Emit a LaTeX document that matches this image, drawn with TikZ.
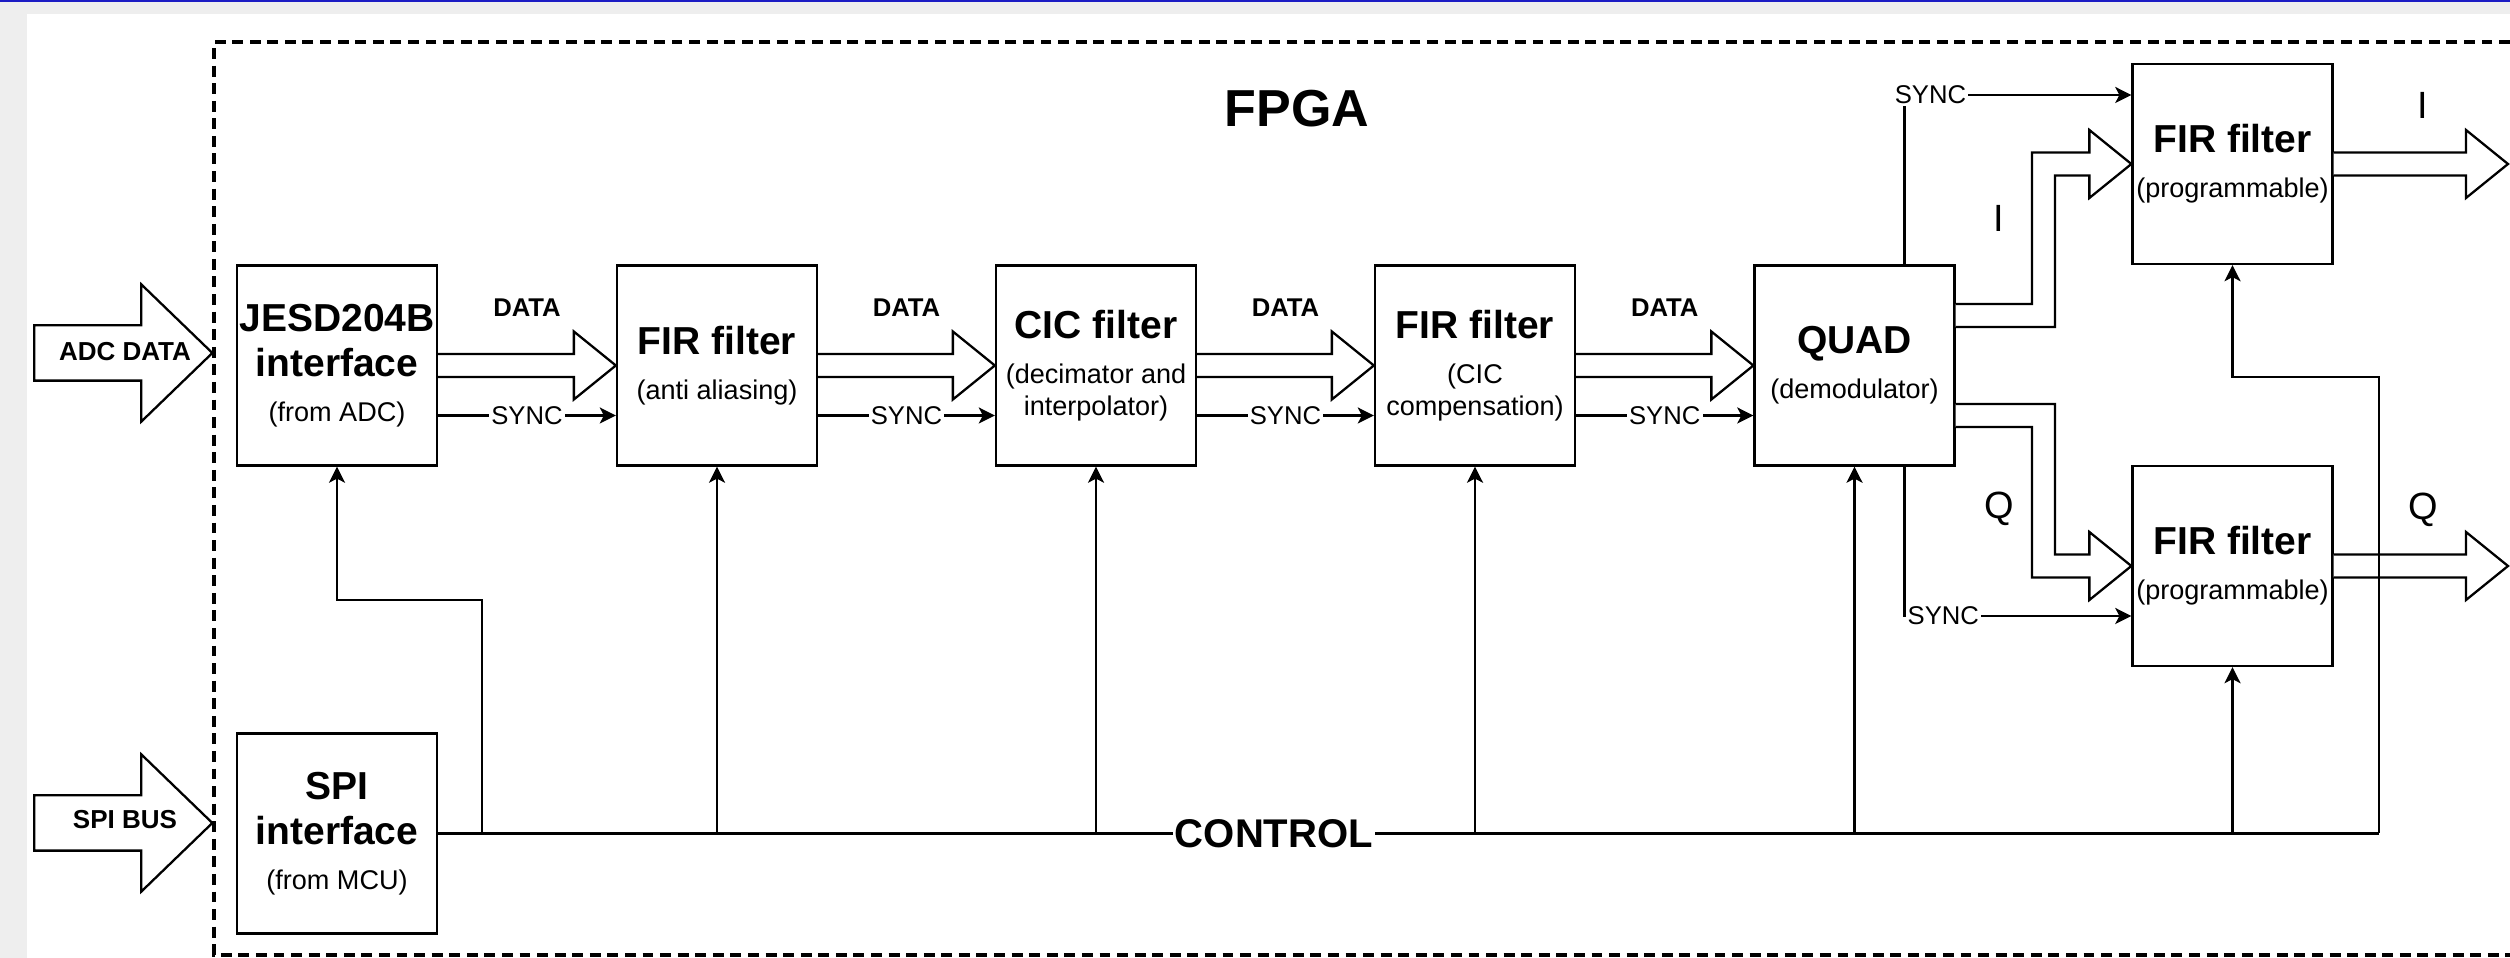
\documentclass[tikz,border=0pt]{standalone}
\usepackage{fontspec}
\setmainfont{Liberation Sans}
\usepackage{tikz}
\usetikzlibrary{shapes}
\usetikzlibrary{arrows.meta}
\usetikzlibrary{calc}

\definecolor{pagegray}{HTML}{EEEEEE}
\definecolor{barblue}{HTML}{1C1CC4}

\newcommand{\boxhead}{\fontsize{11.1}{12.8}\selectfont\bfseries}
\newcommand{\boxsub}{\fontsize{7.7}{9.1}\selectfont}

% wide hollow arrow from #1 to the tip #2 (same height)
\newcommand{\busto}[2]{%
  \draw[bus] let \p1=(#1), \p2=(#2) in
    (\x1,\y1+1.15mm) -- (\x2-4.2mm,\y1+1.15mm) -- (\x2-4.2mm,\y1+3.4mm) -- (\x2,\y1)
    -- (\x2-4.2mm,\y1-3.4mm) -- (\x2-4.2mm,\y1-1.15mm) -- (\x1,\y1-1.15mm);}
% same, with a step half way: #3 = 1 going up, -1 going down
\newcommand{\bentbus}[3]{%
  \draw[bus] let \p1=(#1), \p2=(#2), \p3=($(#1)!.5!(#2)$), \n1={#3*1.15} in
    (\x1,\y1+1.15mm) -- ({\x3-\n1 mm},\y1+1.15mm) -- ({\x3-\n1 mm},\y2+1.15mm)
    -- (\x2-4.2mm,\y2+1.15mm) -- (\x2-4.2mm,\y2+3.4mm) -- (\x2,\y2)
    -- (\x2-4.2mm,\y2-3.4mm) -- (\x2-4.2mm,\y2-1.15mm) -- ({\x3+\n1 mm},\y2-1.15mm)
    -- ({\x3+\n1 mm},\y1-1.15mm) -- (\x1,\y1-1.15mm);}

\begin{document}
\begin{tikzpicture}

  \tikzset{block/.style = {shape=rectangle,draw,line width=0.65pt,minimum width=2cm,minimum height=2cm,align=center,inner sep=0pt,font=\boxsub}}
  \tikzset{bus/.style = {draw,fill=white,line width=0.65pt}}
  \tikzset{sig/.style = {-{Stealth[length=4.6pt,width=4.6pt,inset=1.2pt]},line width=0.6pt}}
  \tikzset{ctrlbus/.style = {line width=0.9pt}}
  \tikzset{inarrow/.style = {shape=single arrow,draw,fill=white,line width=0.65pt,minimum height=1.78cm,
      single arrow head extend=4.1mm,single arrow tip angle=88,inner xsep=0pt,inner ysep=2.65mm,
      text height=0pt,text depth=0pt}}
  \tikzset{portlbl/.style = {font=\fontsize{7.4}{9}\selectfont\bfseries}}
  \tikzset{datalbl/.style = {font=\fontsize{7.3}{9}\selectfont\bfseries}}
  \tikzset{synclbl/.style = {fill=white,inner sep=0.6pt,font=\fontsize{7.3}{9}\selectfont}}
  \tikzset{iqlbl/.style = {font=\fontsize{10.8}{13}\selectfont}}

  \useasboundingbox (0,0) rectangle (25.1,9.58);
  \fill[pagegray] (0,0) rectangle (25.1,9.58);
  \fill[white] (0.27,0) rectangle (25.1,9.44);
  \fill[barblue] (0,9.56) rectangle (25.1,9.58);

  % fpga border
  \draw[line width=1.1pt,dash pattern=on 3.1pt off 1.9pt] (25.1,9.16) -- (2.14,9.16) -- (2.14,0.03) -- (25.1,0.03);
  \node[font=\fontsize{14.8}{17}\selectfont\bfseries] (fpga) at (12.97,8.49) {FPGA};

  % blocks
  \node[block] (jesd) at (3.37,5.925)  {{\boxhead JESD204B}\\[3.7pt]{\boxhead interface}\\[3.7pt](from ADC)};
  \node[block] (spi)  at (3.37,1.245)  {{\boxhead SPI}\\[3.7pt]{\boxhead interface}\\[3.7pt](from MCU)};
  \node[block] (fira) at (7.17,5.925)  {{\boxhead FIR filter}\\[3.7pt](anti aliasing)};
  \node[block] (cic)  at (10.96,5.925) {{\boxhead CIC filter}\\[3.7pt](decimator and\\interpolator)};
  \node[block] (firb) at (14.75,5.925) {{\boxhead FIR filter}\\[3.7pt](CIC\\compensation)};
  \node[block] (quad) at (18.545,5.925) {{\boxhead QUAD}\\[3.7pt](demodulator)};
  \node[block] (firi) at (22.325,7.94) {{\boxhead FIR filter}\\[3.7pt](programmable)};
  \node[block] (firq) at (22.325,3.92) {{\boxhead FIR filter}\\[3.7pt](programmable)};

  % inputs
  \node[inarrow,anchor=tip] (adc) at (2.14,6.05) {};
  \node[portlbl] (adclbl) at (1.25,6.06) {ADC DATA};
  \node[inarrow,anchor=tip] (spibus) at (2.14,1.35) {};
  \node[portlbl] (spilbl) at (1.25,1.38) {SPI BUS};

  % data path
  \foreach \a/\b in {jesd/fira,fira/cic,cic/firb,firb/quad}{
    \busto{\a.east}{\b.west}
    \node[datalbl] (data-\a) at ($(\a.east)!.5!(\b.west)+(0,5.75mm)$) {DATA};
    \draw[sig] ([yshift=-5mm]\a.east) -- node[synclbl] (sync-\a) {SYNC} ([yshift=-5mm]\b.west);
  }

  \bentbus{[yshift=5mm]quad.east}{firi.west}{1}
  \bentbus{[yshift=-5mm]quad.east}{firq.west}{-1}
  \node[iqlbl] (ilbl) at (19.99,7.40) {I};
  \node[iqlbl] (qlbl) at (19.99,4.49) {Q};

  \draw[sig] ([xshift=5mm]quad.north) |- node[pos=.5,synclbl,xshift=2.6mm] (sync-i) {SYNC} ([yshift=6.9mm]firi.west);
  \draw[sig] ([xshift=5mm]quad.south) |- node[pos=.5,synclbl,anchor=west] (sync-q) {SYNC} ([yshift=-5mm]firq.west);

  % outputs
  \coordinate (iout) at (25.08,7.94);
  \coordinate (qout) at (25.08,3.92);
  \busto{firi.east}{iout}
  \busto{firq.east}{qout}
  \node[iqlbl] (iolbl) at (24.23,8.525) {I};
  \node[iqlbl] (qolbl) at (24.23,4.48) {Q};

  % control
  \coordinate (busend) at (23.79,1.245);
  \coordinate (jtap) at (4.82,1.245);
  \draw[ctrlbus] (spi.east) -- (busend);
  \draw[sig] (jtap) |- ([yshift=-13.35mm]jesd.south) -- (jesd.south);
  \foreach \b in {fira,cic,firb,quad,firq}
    \draw[sig] (spi.east -| \b.south) -- (\b.south);
  \draw[sig] (busend) |- ([yshift=-11.2mm]firi.south) -- (firi.south);
  \node[fill=white,inner xsep=0.5pt,font=\fontsize{11.4}{13}\selectfont\bfseries] (ctrl) at (12.74,1.245) {CONTROL};

\end{tikzpicture}
\end{document}
